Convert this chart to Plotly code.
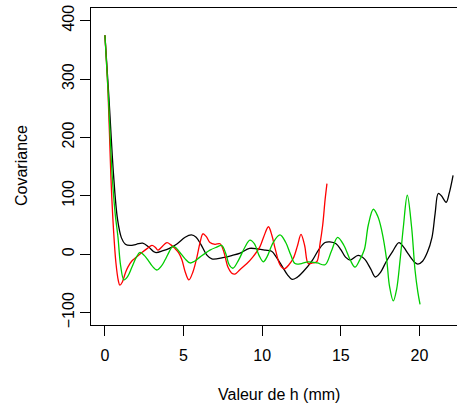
import plotly.graph_objects as go

# Black series
h_black = [0, 0.25, 0.55, 0.8, 1.05, 1.3, 1.6, 2.0, 2.4, 2.8, 3.2, 3.7, 4.1, 4.6, 5.1, 5.5, 5.8, 6.1, 6.5, 6.8,
           7.5, 8.1, 8.6, 9.2, 9.7, 10.2, 10.6, 10.9, 11.3, 11.6, 11.9, 12.2, 12.6, 13.2, 13.6, 14.0, 14.3, 14.7,
           15.0, 15.3, 15.6, 16.1, 16.5, 16.9, 17.2, 17.5, 17.9, 18.3, 18.7, 19.0, 19.3, 19.7, 19.9, 20.2, 20.5,
           20.8, 21.0, 21.2, 21.4, 21.7, 21.9, 22.14]
cov_black = [375, 270, 135, 60, 28, 17, 15, 17, 19, 12, 3, 6, 10, 18, 29, 33, 29, 17, -2, -8,
             -6, -2, 2, 10, 9, 7, 5, -5, -22, -35, -43, -40, -30, -10, 8, 20, 21, 18,
             8, -5, -10, -2, -8, -25, -39, -32, -12, 5, 20, 12, 0, -14, -17, -12, 3,
             29, 70, 104, 100, 89, 105, 135]

# Red series
h_red = [0, 0.2, 0.38, 0.55, 0.7, 0.85, 0.95, 1.1, 1.3, 1.46, 1.7, 1.91, 2.35, 2.7, 2.99, 3.2, 3.37, 3.6, 3.94,
         4.2, 4.45, 4.7, 4.9, 5.1, 5.34, 5.6, 5.85, 6.05, 6.23, 6.45, 6.68, 7.0, 7.32, 7.55, 7.82, 8.05, 8.27,
         8.6, 9.03, 9.4, 9.86, 10.1, 10.4, 10.62, 10.85, 11.13, 11.4, 11.7, 11.98, 12.25, 12.47, 12.7, 12.93,
         13.2, 13.47, 13.68, 13.85, 14.0, 14.12]
cov_red = [375, 275, 132, 40, -15, -45, -53, -48, -32, -22, -12, -7, 3, 10, 15, 12, 7, 12, 20,
           16, 10, 2, -10, -30, -44, -30, -5, 20, 35, 30, 20, 17, 18, 5, -22, -32, -34,
           -26, -16, -5, 13, 30, 47, 32, 7, -18, -25, -18, -7, 15, 34, 15, -16,
           -15, -13, 18, 50, 93, 121]

# Green series
h_green = [0, 0.2, 0.46, 0.65, 0.83, 1.0, 1.21, 1.45, 1.72, 2.0, 2.23, 2.5, 2.74, 3.0, 3.31, 3.6, 3.82, 4.1,
           4.33, 4.55, 4.77, 5.1, 5.41, 5.7, 6.04, 6.68, 7.1, 7.42, 7.7, 7.9, 8.14, 8.5, 8.9, 9.22, 9.5, 9.8,
           10.07, 10.3, 10.7, 11.13, 11.5, 11.8, 12.09, 12.5, 12.93, 13.5, 14.0, 14.4, 14.8, 15.2, 15.6, 15.9,
           16.2, 16.5, 16.75, 17.07, 17.35, 17.6, 17.92, 18.1, 18.34, 18.55, 18.77, 18.98, 19.23, 19.5,
           19.72, 19.9, 20.04]
cov_green = [375, 280, 135, 70, 29, -20, -44, -38, -22, -5, 3, -2, -10, -20, -27, -20, -10, 5,
             14, 10, 3, -8, -15, -12, -5, 7, 12, 15, 0, -18, -24, -10, 12, 24, 18, -2,
             -13, -5, 20, 33, 20, 0, -16, -16, -13, -15, -18, 5, 29, 15, -10, -22,
             -10, 8, 50, 77, 65, 41, -10, -55, -80, -60, -10, 47, 101, 47,
             -27, -65, -86]

x_ticks = [0, 5, 10, 15, 20]
y_ticks = [-100, 0, 100, 200, 300, 400]

FONT = "Liberation Sans, Arial, sans-serif"

fig = go.Figure()
for xs, ys, col in [(h_black, cov_black, "#000000"),
                    (h_red, cov_red, "#FF0000"),
                    (h_green, cov_green, "#00CD00")]:
    fig.add_trace(go.Scatter(x=xs, y=ys, mode="lines",
                             line=dict(color=col, width=1.3, shape="spline", smoothing=1.0),
                             showlegend=False, hoverinfo="skip"))

fig.update_layout(
    width=457, height=409,
    margin=dict(l=91, r=0, t=8, b=84),
    paper_bgcolor="white", plot_bgcolor="white",
    font=dict(family=FONT, size=16, color="black"),
    xaxis=dict(range=[-0.886, 22.39], tickvals=x_ticks, ticktext=[str(v) for v in x_ticks],
               showgrid=False, zeroline=False, showline=True, linecolor="black", linewidth=1,
               mirror=True, ticks="outside", ticklen=10, tickcolor="black", tickwidth=1,
               ticklabelstandoff=6),
    yaxis=dict(range=[-121.2, 421.6], tickvals=y_ticks, ticktext=[str(v).replace("-", "\u2212") for v in y_ticks],
               tickangle=-90,
               showgrid=False, zeroline=False, showline=True, linecolor="black", linewidth=1,
               ticks="outside", ticklen=10, tickcolor="black", tickwidth=1),
    annotations=[
        dict(text="Valeur de h (mm)", xref="paper", yref="paper", x=0.5137, y=-0.2177,
             xanchor="center", yanchor="middle", showarrow=False, font=dict(size=16)),
        dict(text="Covariance", xref="paper", yref="paper", x=-0.1885, y=0.5016,
             xanchor="center", yanchor="middle", textangle=-90, showarrow=False, font=dict(size=16)),
    ],
)

fig.write_html("out.html", config={"displayModeBar": False},
               post_script="document.body.style.margin='0px';document.body.style.overflow='hidden';")
